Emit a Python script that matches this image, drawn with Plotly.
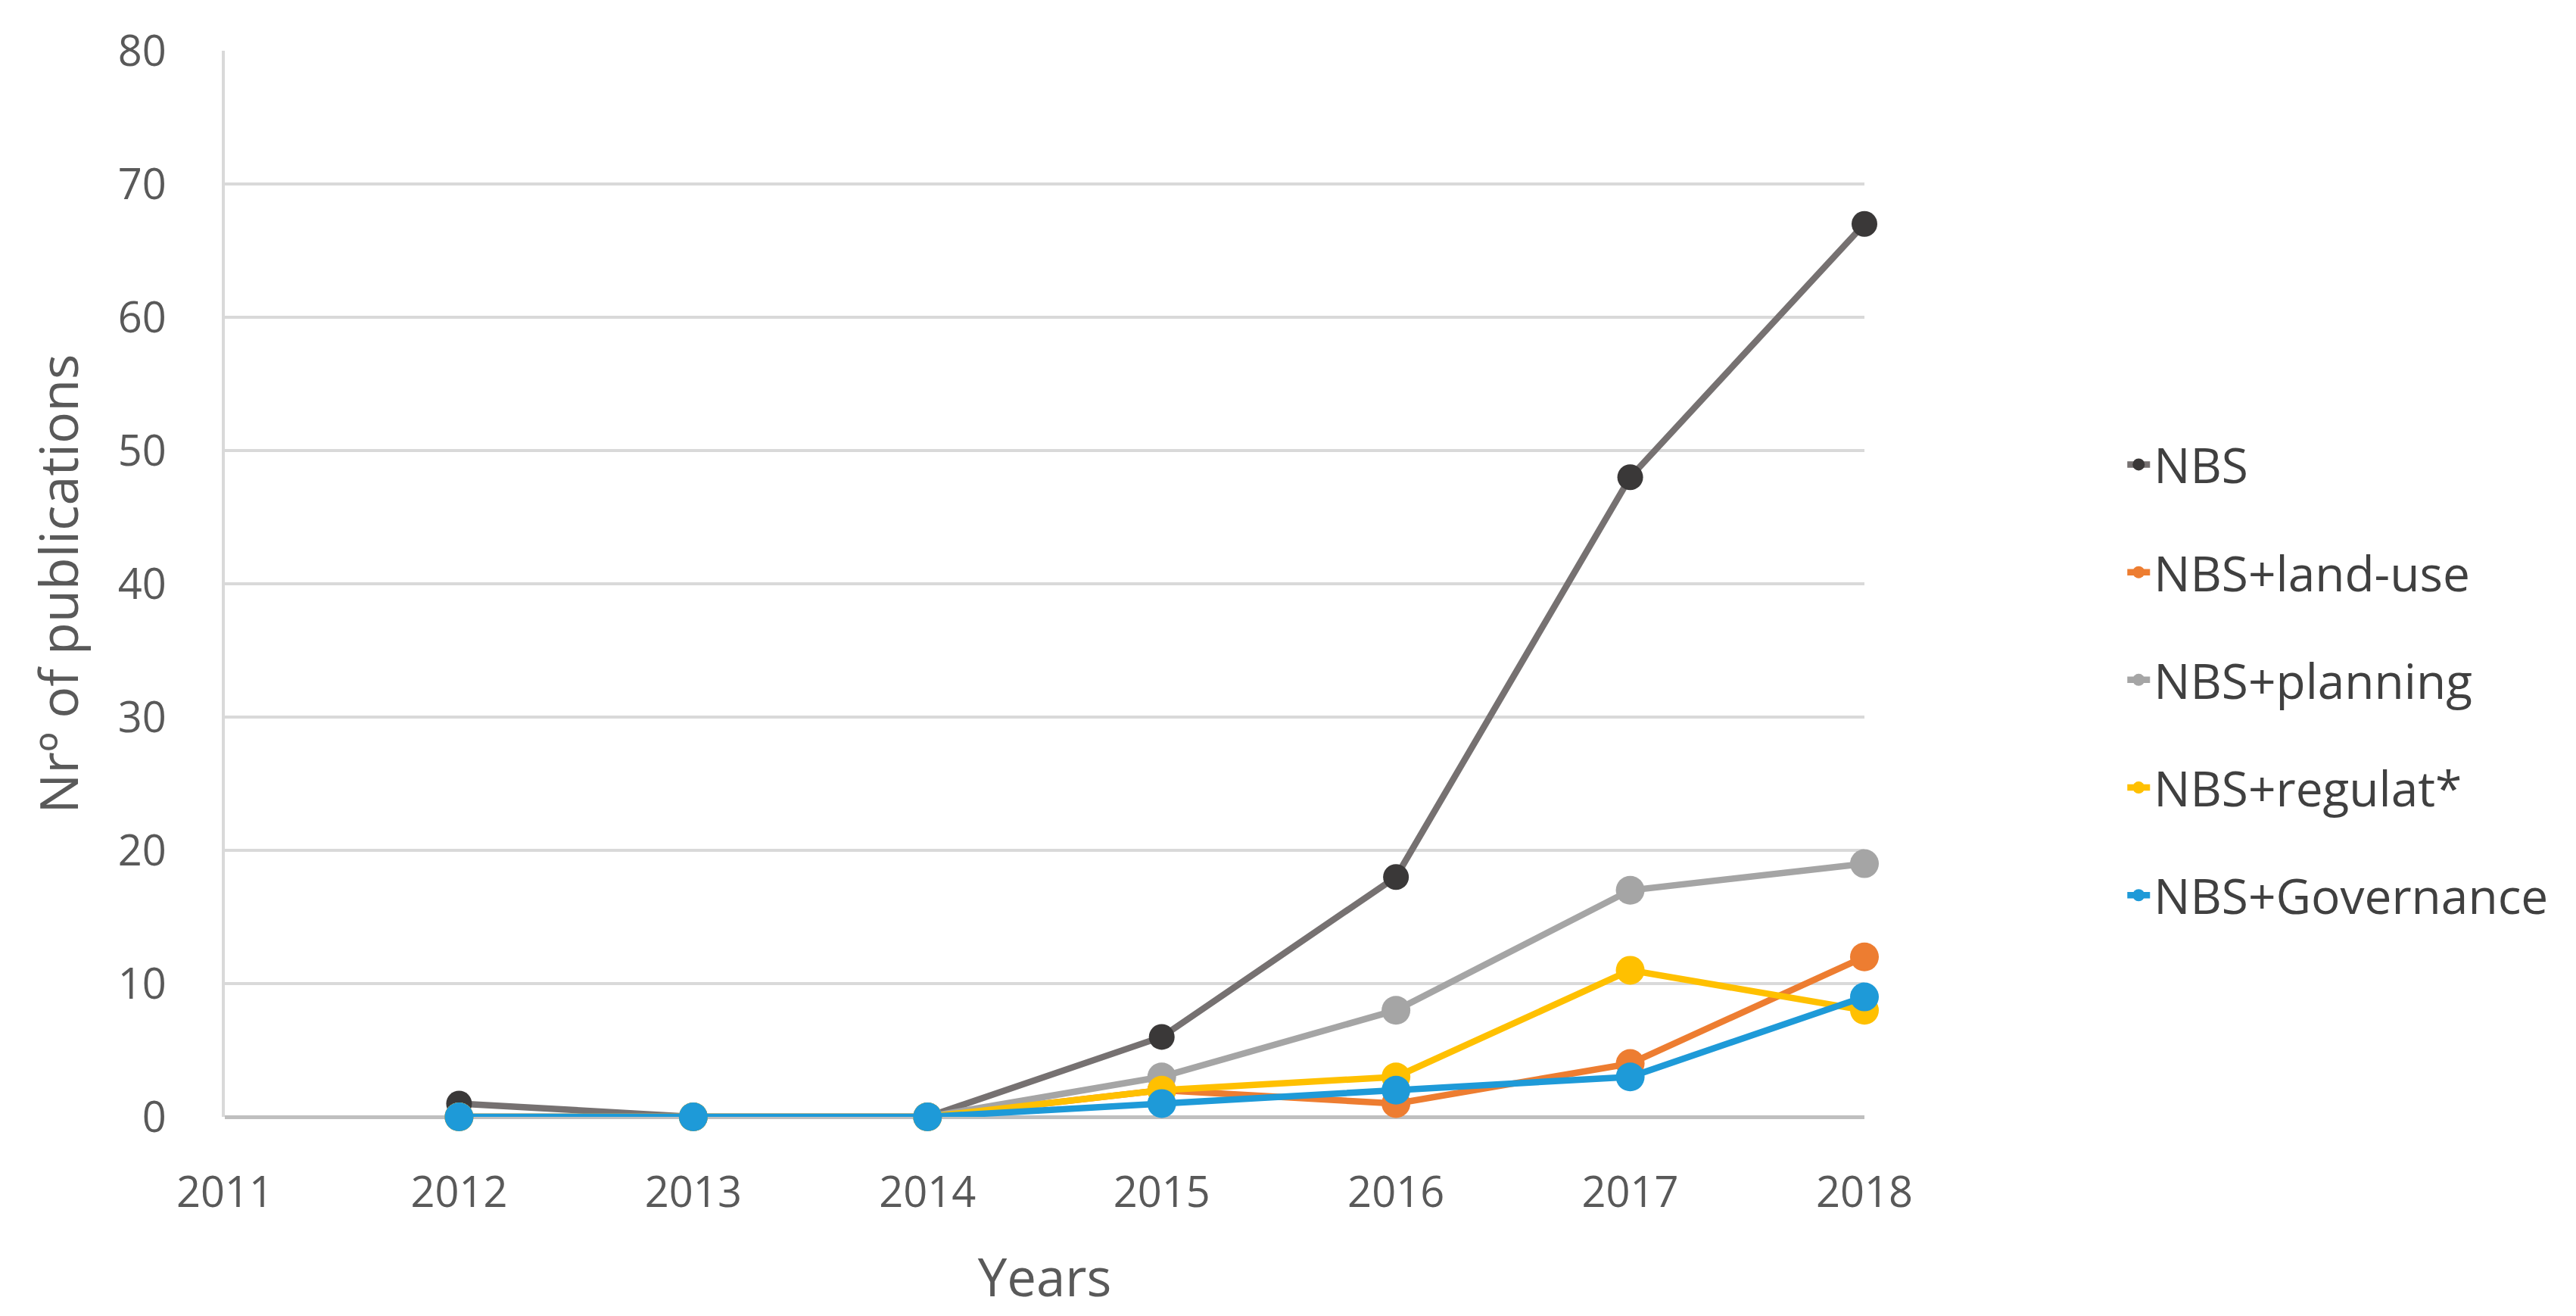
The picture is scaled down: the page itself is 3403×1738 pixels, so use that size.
import plotly.graph_objects as go

# Publications per year
years = [2012, 2013, 2014, 2015, 2016, 2017, 2018]
nbs = [1, 0, 0, 6, 18, 48, 67]
nbs_land_use = [0, 0, 0, 2, 1, 4, 12]
nbs_planning = [0, 0, 0, 3, 8, 17, 19]
nbs_regulat = [0, 0, 0, 2, 3, 11, 8]
nbs_governance = [0, 0, 0, 1, 2, 3, 9]

series_names = ['NBS', 'NBS+land-use', 'NBS+planning', 'NBS+regulat*', 'NBS+Governance']
series_values = [nbs, nbs_land_use, nbs_planning, nbs_regulat, nbs_governance]
line_colors = ['#767171', '#ED7D31', '#A5A5A5', '#FFC000', '#1E9AD8']
marker_colors = ['#3A3838', '#ED7D31', '#A5A5A5', '#FFC000', '#1E9AD8']
marker_sizes = [34, 38, 38, 38, 38]

fig = go.Figure()
for name, vals, lc, mc, ms in zip(series_names, series_values, line_colors, marker_colors, marker_sizes):
    fig.add_trace(go.Scatter(
        x=years,
        y=vals,
        name=name,
        legendgroup=name,
        mode='lines+markers',
        line=dict(color=lc, width=8.5),
        marker=dict(color=mc, size=ms, line=dict(width=0)),
        cliponaxis=False
    ))

fig.update_layout(
    width=3403,
    height=1738,
    margin=dict(l=289, r=948, t=59, b=271),
    plot_bgcolor='white',
    paper_bgcolor='white',
    font=dict(family='Open Sans', color='#595959', size=56),
    showlegend=True,
    legend=dict(
        xref='container', yref='container',
        x=0.822, y=0.488, xanchor='left', yanchor='middle',
        font=dict(size=64, color='#404040'),
        tracegroupgap=56,
        bgcolor='rgba(0,0,0,0)'
    )
)
fig.update_xaxes(
    range=[2011, 2018],
    tick0=2011,
    dtick=1,
    showgrid=False,
    showline=False,
    zeroline=False,
    ticks='',
    ticklabelstandoff=62,
    title=dict(text='Years', standoff=54, font=dict(size=69))
)
fig.update_yaxes(
    range=[0, 80],
    dtick=10,
    showgrid=True,
    gridcolor='#D9D9D9',
    gridwidth=4,
    zeroline=True,
    zerolinecolor='#BFBFBF',
    zerolinewidth=5,
    showline=True,
    linecolor='#D9D9D9',
    linewidth=4,
    ticks='',
    ticklabelstandoff=62,
    title=dict(text='Nrº of publications', standoff=30, font=dict(size=70))
)

fig.write_html("out.html", config={'displayModeBar': False})
